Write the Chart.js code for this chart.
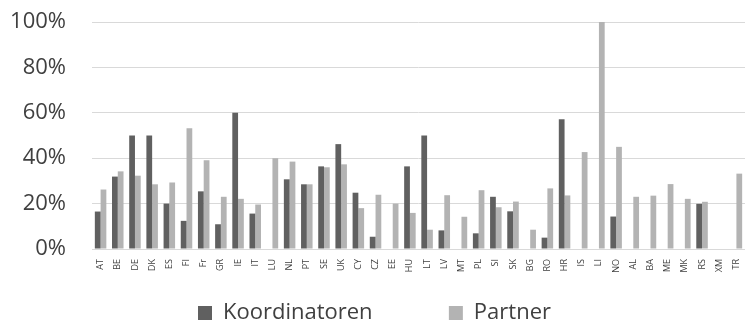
<!DOCTYPE html>
<html>
<head>
<meta charset="utf-8">
<script src="https://cdn.jsdelivr.net/npm/chart.js@4.4.1/dist/chart.umd.min.js"></script>
<style>
  html, body { margin: 0; padding: 0; background: #fff; }
  #wrap { width: 745px; height: 320px; }
</style>
</head>
<body>
<div id="wrap"><canvas id="myChart" width="745" height="320"></canvas></div>
<script>
const countries = ['AT','BE','DE','DK','ES','FI','Fr','GR','IE','IT','LU','NL','PT','SE','UK','CY','CZ','EE','HU','LT','LV','MT','PL','SI','SK','BG','RO','HR','IS','LI','NO','AL','BA','ME','MK','RS','XM','TR'];

const koordinatoren = [16.5,31.9,50,50,20,12.4,25.4,10.9,60,15.6,0,30.7,28.5,36.4,46.2,24.8,5.4,0,36.4,50,8.2,0,6.9,23,16.6,0,5,57.2,0,0,14.3,0,0,0,0,19.9,0,0];
const partner = [26.2,34.2,32.3,28.5,29.3,53.2,39.1,23,22.1,19.6,40,38.5,28.5,36,37.3,18,23.9,20,15.9,8.5,23.7,14.2,25.9,18.4,20.9,8.5,26.7,23.6,42.7,100,45,23,23.5,28.6,22.1,20.8,0,33.2];

const yTicks = [0, 20, 40, 60, 80, 100];

document.addEventListener('DOMContentLoaded', function(){
  const ctx = document.getElementById('myChart').getContext('2d');
  const myChart = new Chart(ctx, {
    type: 'bar',
    data: {
      labels: countries,
      datasets: [{
        label: 'Koordinatoren',
        data: koordinatoren,
        backgroundColor: '#606060',
        categoryPercentage: 0.67,
        barPercentage: 1.0
      }, {
        label: 'Partner',
        data: partner,
        backgroundColor: '#b3b3b3',
        categoryPercentage: 0.67,
        barPercentage: 1.0
      }]
    },
    options: {
      responsive: false,
      animation: false,
      layout: { padding: { top: 22, right: -4, bottom: -14, left: 0 } },
      plugins: {
        tooltip: { enabled: false },
        legend: {
          position: 'bottom',
          labels: {
            boxWidth: 14,
            boxHeight: 14,
            padding: 2,
            color: '#404040',
            font: { family: 'Open Sans', size: 22 },
            generateLabels: function(chart) {
              const items = Chart.defaults.plugins.legend.labels.generateLabels(chart);
              items[0].text = items[0].text + ' '.repeat(13);
              return items;
            }
          }
        }
      },
      scales: {
        x: {
          grid: { display: false, drawTicks: false },
          border: { color: '#d9d9d9', width: 1 },
          ticks: {
            autoSkip: false,
            minRotation: 90,
            maxRotation: 90,
            padding: 10,
            color: '#404040',
            font: { family: 'Open Sans', size: 9 }
          },
          afterFit: function(scale) {
            scale.height = 51;
            scale.paddingLeft = 0;
            scale.paddingRight = 0;
          }
        },
        y: {
          min: 0,
          max: 100,
          afterBuildTicks: function(scale) {
            scale.ticks = yTicks.map(v => ({ value: v }));
          },
          grid: { color: '#d9d9d9', lineWidth: 1, drawTicks: true, tickLength: 26, tickColor: 'rgba(0,0,0,0)' },
          border: { display: false },
          ticks: {
            padding: 0,
            color: '#404040',
            font: { family: 'Open Sans', size: 22 },
            callback: function(v) { return v + '%'; }
          },
          afterFit: function(scale) { scale.width = 92; }
        }
      }
    }
  });
});
</script>
</body>
</html>
